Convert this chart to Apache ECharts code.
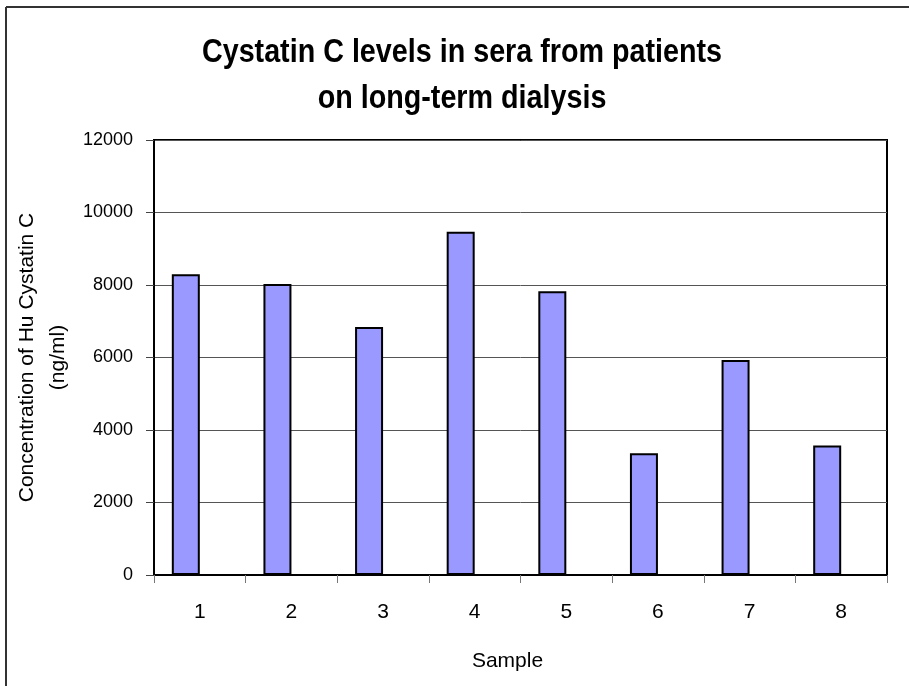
<!DOCTYPE html>
<html>
<head>
<meta charset="utf-8">
<title>Cystatin C levels</title>
<script src="https://cdn.jsdelivr.net/npm/echarts@6/dist/echarts.min.js"></script>
<style>
  html, body { margin: 0; padding: 0; background: #fff; }
  #chart { width: 909px; height: 686px; }
</style>
</head>
<body>
<div id="chart"></div>
<script>
// data
const samples = ['1', '2', '3', '4', '5', '6', '7', '8'];
const cystatinC = [8300, 8030, 6840, 9470, 7830, 3360, 5930, 3570];
const yTicks = [0, 2000, 4000, 6000, 8000, 10000, 12000];

const FONT = "'Liberation Sans', Arial, sans-serif";

const chart = echarts.init(document.getElementById('chart'));

chart.setOption({
  animation: false,
  backgroundColor: '#fff',
  textStyle: { fontFamily: FONT },
  grid: {
    left: 154,
    right: 22,
    top: 140,
    bottom: 111,
    show: true,
    borderColor: '#000',
    borderWidth: 2,
    containLabel: false,
    outerBoundsMode: 'none',
  },
  graphic: [
    // outer chart frame (top and left edges only are visible)
    { type: 'line', shape: { x1: 6, y1: 7, x2: 909, y2: 7 }, style: { stroke: '#333', lineWidth: 2 } },
    { type: 'line', shape: { x1: 6, y1: 7, x2: 6, y2: 686 }, style: { stroke: '#333', lineWidth: 2 } },
    {
      // condensed bold title, like the original
      type: 'text',
      x: 462,
      y: 76,
      scaleX: 0.87,
      originX: 0,
      originY: 0,
      style: {
        text: 'Cystatin C levels in sera from patients\non long-term dialysis',
        x: 0,
        y: 0,
        align: 'center',
        verticalAlign: 'middle',
        font: 'bold 33px ' + FONT,
        lineHeight: 46,
        fill: '#000',
      },
    },
  ],
  xAxis: {
    type: 'category',
    data: samples,
    name: 'Sample',
    nameLocation: 'middle',
    nameGap: 76,
    nameMoveOverlap: false,
    nameTextStyle: { fontSize: 21, color: '#000', padding: [0, 26, 0, 0] },
    axisLine: { lineStyle: { color: '#000', width: 2 } },
    axisTick: { show: true, length: 8, lineStyle: { color: '#777' } },
    axisLabel: { fontSize: 21, color: '#000', margin: 27 },
  },
  yAxis: {
    type: 'value',
    min: 0,
    max: 12000,
    interval: 2000,
    name: 'Concentration of Hu Cystatin C\n(ng/ml)',
    nameLocation: 'middle',
    nameGap: 80,
    nameMoveOverlap: false,
    nameTextStyle: { fontSize: 21, color: '#000', lineHeight: 31 },
    axisLine: { show: true, lineStyle: { color: '#000', width: 2 } },
    axisTick: { show: true, length: 8, lineStyle: { color: '#444' } },
    axisLabel: {
      fontSize: 18,
      color: '#000',
      margin: 21,
      formatter: (v) => (yTicks.includes(v) ? String(v) : ''),
    },
    splitLine: { lineStyle: { color: '#555', width: 1 } },
  },
  series: [
    {
      name: 'Cystatin C',
      type: 'bar',
      data: cystatinC,
      barWidth: 28,
      barGap: '0%',
      itemStyle: { color: '#9999ff', borderColor: '#000', borderWidth: 2 },
    },
    {
      // empty companion series: keeps the bars to the left of each category centre
      name: 'blank',
      type: 'bar',
      data: [],
      barWidth: 28,
    },
  ],
});
</script>
</body>
</html>
